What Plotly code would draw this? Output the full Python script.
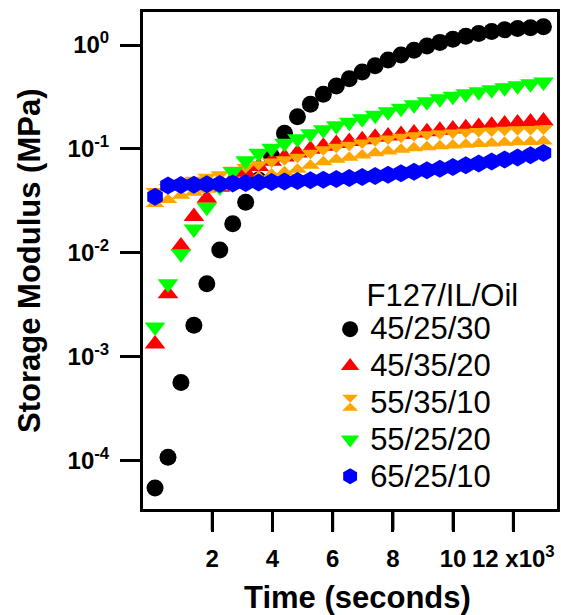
import math
import plotly.graph_objects as go

# ---- data ----
time_s = [100, 530, 960, 1390, 1820, 2250, 2680, 3110, 3540, 3970, 4400,
          4830, 5260, 5690, 6120, 6550, 6980, 7410, 7840, 8270, 8700,
          9130, 9560, 9990, 10420, 10850, 11280, 11710, 12140, 12570, 13000]

g_45_25_30 = [5.4e-5, 1.07e-4, 5.6e-4, 2.0e-3, 5.0e-3, 0.0106, 0.019, 0.0305, 0.050, 0.085,
              0.141, 0.204, 0.269, 0.335, 0.403, 0.473, 0.55, 0.63, 0.716, 0.80,
              0.89, 0.98, 1.06, 1.135, 1.216, 1.29, 1.35, 1.40, 1.44, 1.47, 1.50]

g_45_35_20 = [1.32e-3, 4.01e-3, 0.01156, 0.02223, 0.03334, 0.04266, 0.0513, 0.0596, 0.0676, 0.0759,
              0.0832, 0.0912, 0.0989, 0.1059, 0.1122, 0.1175, 0.1225, 0.1291, 0.1330, 0.1374,
              0.1419, 0.1462, 0.1507, 0.1552, 0.1596, 0.1641, 0.1687, 0.1730, 0.1774, 0.1816, 0.1858]

g_55_35_10 = [0.0340, 0.0372, 0.0407, 0.0437, 0.0466, 0.0493, 0.0543, 0.0579, 0.0615, 0.0652,
              0.0687, 0.0724, 0.0794, 0.0859, 0.0906, 0.0948, 0.0998, 0.1047, 0.1091, 0.1130,
              0.1167, 0.1197, 0.1222, 0.1245, 0.1265, 0.1285, 0.1303, 0.1321, 0.1334, 0.1346, 0.1358]

g_55_25_20 = [1.92e-3, 5.01e-3, 9.77e-3, 0.0169, 0.0274, 0.0429, 0.0604, 0.0766, 0.0906, 0.1012,
              0.1130, 0.1247, 0.1396, 0.1524, 0.1667, 0.1799, 0.1945, 0.2104, 0.2270, 0.2455,
              0.2655, 0.2838, 0.3034, 0.3206, 0.3388, 0.3540, 0.3698, 0.3873, 0.4046, 0.4227, 0.4406]

g_65_25_10 = [0.0346, 0.0442, 0.0447, 0.0451, 0.0455, 0.0459, 0.0463, 0.0468, 0.0473, 0.0479,
              0.0484, 0.0490, 0.0497, 0.0504, 0.0512, 0.0522, 0.0535, 0.0548, 0.0564, 0.0581,
              0.0600, 0.0621, 0.0644, 0.0668, 0.0695, 0.0723, 0.0755, 0.0789, 0.0826, 0.0867, 0.0912]

series_names = ["45/25/30", "45/35/20", "55/35/10", "55/25/20", "65/25/10"]
series_values = [g_45_25_30, g_45_35_20, g_55_35_10, g_55_25_20, g_65_25_10]

x_tick_vals = [2000, 4000, 6000, 8000, 10000, 12000]
x_tick_text = ["2", "4", "6", "8", "10", "12 x10<sup>3</sup>"]
y_tick_vals = [1e-4, 1e-3, 1e-2, 1e-1, 1]
y_tick_text = ["10<sup>-4</sup>", "10<sup>-3</sup>", "10<sup>-2</sup>", "10<sup>-1</sup>", "10<sup>0</sup>"]

# ---- styles ----
colors = ["#000000", "#ff0000", "#ffa500", "#00ff00", "#0000ff"]
symbols = ["circle", "triangle-up", "hourglass", "triangle-down", "hexagon"]
sizes = [17, 18, 19, 18, 18]

FONT = "Liberation Sans, Arial, Helvetica, sans-serif"
W, H = 561, 615
ML, MR, MT, MB = 143, 4, 12, 106
TICK_LEN = 20

fig = go.Figure()
for name, vals, c, s, sz in zip(series_names, series_values, colors, symbols, sizes):
    fig.add_trace(go.Scatter(
        x=time_s, y=vals, mode="markers",
        name="<span style='font-size:31px'>" + name + "</span>",
        marker=dict(color=c, symbol=s, size=sz, line=dict(width=0)),
    ))

axis_common = dict(
    showline=True, linewidth=3, linecolor="black", mirror=True,
    ticks="outside", ticklen=TICK_LEN, tickwidth=3, tickcolor="#000000",
    showgrid=False, zeroline=False,
    tickfont=dict(family=FONT, size=24, color="black", weight="bold"),
)

# explicit tick marks (drawn at the tick values through the axes)
plot_w = W - ML - MR
plot_h = H - MT - MB
tick_shapes = []
for v in x_tick_vals:
    tick_shapes.append(dict(type="line", xref="x", yref="paper", x0=v, x1=v,
                            y0=0, y1=-(TICK_LEN + 1.5) / plot_h,
                            line=dict(color="black", width=3)))
for v in y_tick_vals:
    tick_shapes.append(dict(type="line", xref="paper", yref="y",
                            x0=0, x1=-(TICK_LEN + 1.5) / plot_w,
                            y0=math.log10(v), y1=math.log10(v),
                            line=dict(color="black", width=3)))

fig.update_layout(
    template="none",
    width=W, height=H,
    margin=dict(l=ML, r=MR, t=MT, b=MB, autoexpand=False),
    paper_bgcolor="white", plot_bgcolor="white",
    font=dict(family=FONT, color="black"),
    xaxis=dict(range=[-300, 13450], tickmode="array", tickvals=x_tick_vals, ticktext=x_tick_text,
               ticklabelstandoff=6, **axis_common),
    yaxis=dict(type="log", range=[-4.47, 0.318], tickmode="array", tickvals=y_tick_vals,
               ticktext=y_tick_text, ticklabelstandoff=6, **axis_common),
    legend=dict(
        x=0.452, y=0.49, xanchor="left", yanchor="top",
        bgcolor="rgba(0,0,0,0)", borderwidth=0,
        font=dict(family=FONT, size=26, color="black"),
        title=dict(text="\u00a0\u00a0\u00a0\u00a0F127/IL/Oil", side="top",
                   font=dict(family=FONT, size=31, color="black")),
        itemsizing="trace",
    ),
    showlegend=True,
    shapes=tick_shapes,
    annotations=[
        dict(text="<b>Time (seconds)</b>", xref="paper", yref="paper",
             x=0.518, y=-0.179, xanchor="center", yanchor="middle", showarrow=False,
             font=dict(family=FONT, size=31, color="black")),
        dict(text="<b>Storage Modulus (MPa)</b>", xref="paper", yref="paper",
             x=-0.273, y=0.499, xanchor="center", yanchor="middle", showarrow=False,
             textangle=-90, font=dict(family=FONT, size=31, color="black")),
    ],
)

fig.write_html("out.html", config={"displayModeBar": False},
               post_script="document.body.style.margin='0px';document.body.style.overflow='hidden';")
